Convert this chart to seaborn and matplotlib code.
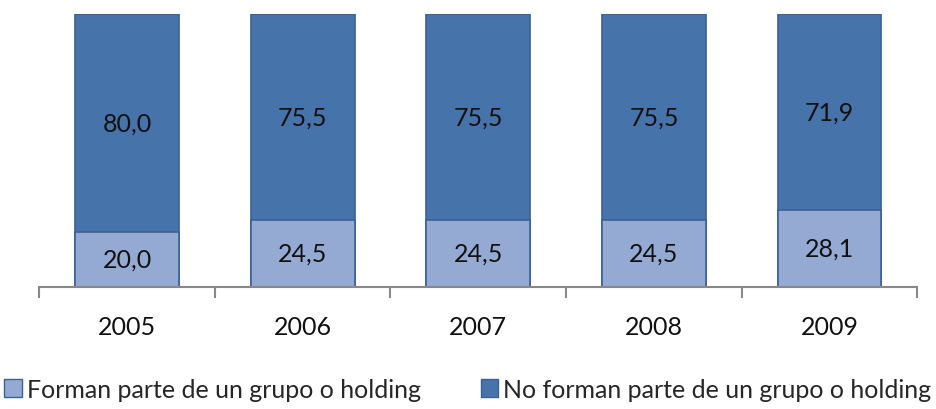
import pandas as pd
import matplotlib.pyplot as plt
import seaborn as sns
from matplotlib.patches import Patch

# ==== datos ====
years = ["2005", "2006", "2007", "2008", "2009"]
forman = [20.0, 24.5, 24.5, 24.5, 28.1]
no_forman = [80.0, 75.5, 75.5, 75.5, 71.9]

LIGHT = "#95AAD3"
DARK = "#4673A9"
EDGE = "#3A6194"

sns.set_theme(style="white")
plt.rcParams["font.family"] = ["Lato", "DejaVu Sans"]

df = pd.DataFrame({"year": years, "forman": forman, "no_forman": no_forman})
df["total"] = df["forman"] + df["no_forman"]

fig = plt.figure(figsize=(9.36, 4.10), dpi=100)
ax = fig.add_axes([0.042, 0.298, 0.938, 0.665])

# barra total (oscura) y encima la parte clara
sns.barplot(data=df, x="year", y="total", color=DARK, width=0.59,
            edgecolor=EDGE, linewidth=1.2, saturation=1, ax=ax)
sns.barplot(data=df, x="year", y="forman", color=LIGHT, width=0.59,
            edgecolor=EDGE, linewidth=1.2, saturation=1, ax=ax)

for i, (a, b) in enumerate(zip(forman, no_forman)):
    ax.text(i, a / 2, f"{a:.1f}".replace(".", ","), ha="center", va="center",
            fontsize=18, color="#111111")
    ax.text(i, a + b / 2, f"{b:.1f}".replace(".", ","), ha="center", va="center",
            fontsize=18, color="#111111")

ax.set_ylim(0, 100)
ax.set_xlim(-0.5, len(years) - 0.5)
ax.set_xlabel("")
ax.set_ylabel("")
ax.set_yticks([])
for s in ["top", "right", "left"]:
    ax.spines[s].set_visible(False)
ax.spines["bottom"].set_color("#888888")
ax.spines["bottom"].set_linewidth(1.5)

# ticks entre categorias
ax.set_xticks([i - 0.5 for i in range(len(years) + 1)], minor=True)
ax.tick_params(axis="x", which="minor", bottom=True, length=8, width=1.5,
               color="#888888", direction="out")
ax.tick_params(axis="x", which="major", bottom=False, length=0, labelsize=18,
               pad=20, labelcolor="#111111")

handles = [Patch(facecolor=LIGHT, edgecolor=EDGE, label="Forman parte de un grupo o holding"),
           Patch(facecolor=DARK, edgecolor=EDGE, label="No forman parte de un grupo o holding")]
fig.legend(handles=handles, loc="lower center", bbox_to_anchor=(0.5, -0.035), ncol=2,
           frameon=False, fontsize=18, handlelength=0.7, handleheight=0.7,
           handletextpad=0.2, columnspacing=2.4)

fig.savefig("out.png", dpi=100)
